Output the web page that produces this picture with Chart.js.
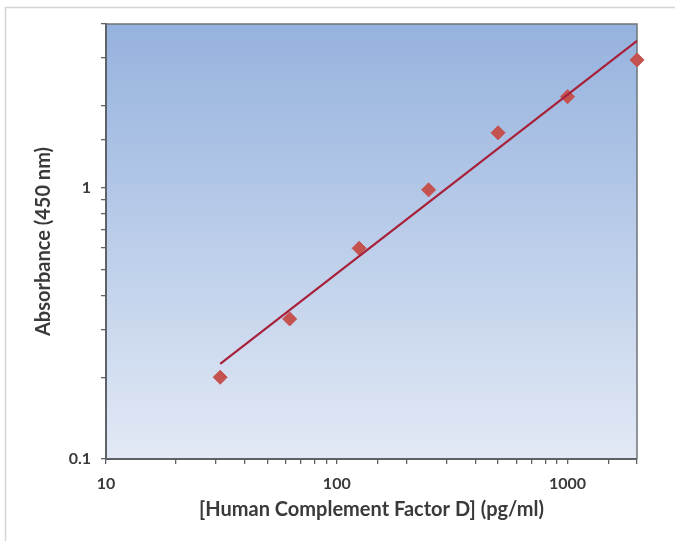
<!DOCTYPE html>
<html lang="en">
<head>
    <meta charset="UTF-8">
    <title>Human Complement Factor D standard curve</title>
    <script src="https://cdn.jsdelivr.net/npm/chart.js"></script>
    <style>
        html, body { margin: 0; padding: 0; background: #ffffff; }
        #wrap { width: 675px; height: 541px; position: relative; }
    </style>
</head>
<body>
    <div id="wrap">
        <canvas id="curva"></canvas>
    </div>

    <script>
        // Standard concentrations (pg/ml) and measured absorbance
        const concentrations = [31.25, 62.5, 125, 250, 500, 1000, 2000];
        const absorbance = [0.2, 0.328, 0.597, 0.98, 1.59, 2.16, 2.95];

        // Trend line ends
        const fitX = [31.25, 2000];
        const fitY = [0.224, 3.47];

        // Axis ranges and labelled ticks
        const xRange = [10, 2000];
        const yRange = [0.1, 4];
        const xLabels = [10, 100, 1000];
        const yLabels = [0.1, 1];

        const textColor = '#3a3a3a';
        const fontFamily = 'Lato, "DejaVu Sans", sans-serif';

        // Background of the plot area + frame around the whole picture
        const fondo = {
            id: 'fondo',
            beforeDraw(chart) {
                const ctx = chart.ctx;
                const a = chart.chartArea;
                ctx.save();
                ctx.strokeStyle = '#d4d4d4';
                ctx.lineWidth = 1.5;
                ctx.strokeRect(5.5, 7.5, 700, 600);
                const g = ctx.createLinearGradient(0, a.top, 0, a.bottom);
                g.addColorStop(0, '#95b2de');
                g.addColorStop(1, '#e2e9f5');
                ctx.fillStyle = g;
                ctx.fillRect(a.left, a.top, a.right - a.left, a.bottom - a.top);
                ctx.restore();
            },
            beforeDatasetsDraw(chart) {
                const ctx = chart.ctx;
                const a = chart.chartArea;
                ctx.save();
                ctx.strokeStyle = '#6f7478';
                ctx.lineWidth = 1.5;
                ctx.beginPath();
                ctx.moveTo(a.left, a.top);
                ctx.lineTo(a.right, a.top);
                ctx.lineTo(a.right, a.bottom);
                ctx.stroke();
                ctx.restore();
            }
        };

        const ctx = document.getElementById('curva').getContext('2d');
        const grafico = new Chart(ctx, {
            type: 'scatter',
            data: {
                datasets: [{
                    label: 'Trend',
                    data: fitX.map((x, i) => ({ x: x, y: fitY[i] })),
                    showLine: true,
                    borderColor: '#a8213a',
                    borderWidth: 2.2,
                    pointRadius: 0,
                    clip: false,
                    order: 1
                }, {
                    label: 'Standards',
                    data: concentrations.map((x, i) => ({ x: x, y: absorbance[i] })),
                    pointStyle: 'rectRot',
                    pointRadius: 7,
                    pointBackgroundColor: '#c4524f',
                    pointBorderColor: '#c4524f',
                    pointBorderWidth: 1,
                    clip: false,
                    order: 2
                }]
            },
            options: {
                responsive: true,
                maintainAspectRatio: false,
                animation: false,
                layout: {
                    padding: { left: 20, right: 38, top: 24, bottom: 19 }
                },
                plugins: {
                    legend: { display: false },
                    tooltip: { enabled: false }
                },
                scales: {
                    x: {
                        type: 'logarithmic',
                        min: xRange[0],
                        max: xRange[1],
                        border: { display: true, color: '#5e6266', width: 2 },
                        grid: {
                            drawOnChartArea: false,
                            drawTicks: true,
                            tickLength: 5,
                            color: '#5e6266',
                            lineWidth: 1.3
                        },
                        ticks: {
                            autoSkip: false,
                            maxRotation: 0,
                            padding: 10,
                            color: textColor,
                            font: { family: fontFamily, size: 16, weight: 'bold' },
                            callback: function (v) {
                                return xLabels.includes(v) ? String(v) : '';
                            }
                        },
                        title: {
                            display: true,
                            text: '[Human Complement Factor D] (pg/ml)',
                            color: textColor,
                            padding: { top: 0, bottom: 0 },
                            font: { family: fontFamily, size: 20, weight: 'bold' }
                        },
                        afterFit: function (scale) { scale.height = 63; }
                    },
                    y: {
                        type: 'logarithmic',
                        min: yRange[0],
                        max: yRange[1],
                        border: { display: true, color: '#5e6266', width: 2 },
                        grid: {
                            drawOnChartArea: false,
                            drawTicks: true,
                            tickLength: 5,
                            color: '#5e6266',
                            lineWidth: 1.3
                        },
                        ticks: {
                            autoSkip: false,
                            padding: 10,
                            color: textColor,
                            font: { family: fontFamily, size: 16, weight: 'bold' },
                            callback: function (v) {
                                return yLabels.includes(v) ? String(v) : '';
                            }
                        },
                        title: {
                            display: true,
                            text: 'Absorbance (450 nm)',
                            color: textColor,
                            padding: { top: 12, bottom: 0 },
                            font: { family: fontFamily, size: 20, weight: 'bold' }
                        },
                        afterFit: function (scale) { scale.width = 86; }
                    }
                }
            },
            plugins: [fondo]
        });
    </script>
</body>
</html>
